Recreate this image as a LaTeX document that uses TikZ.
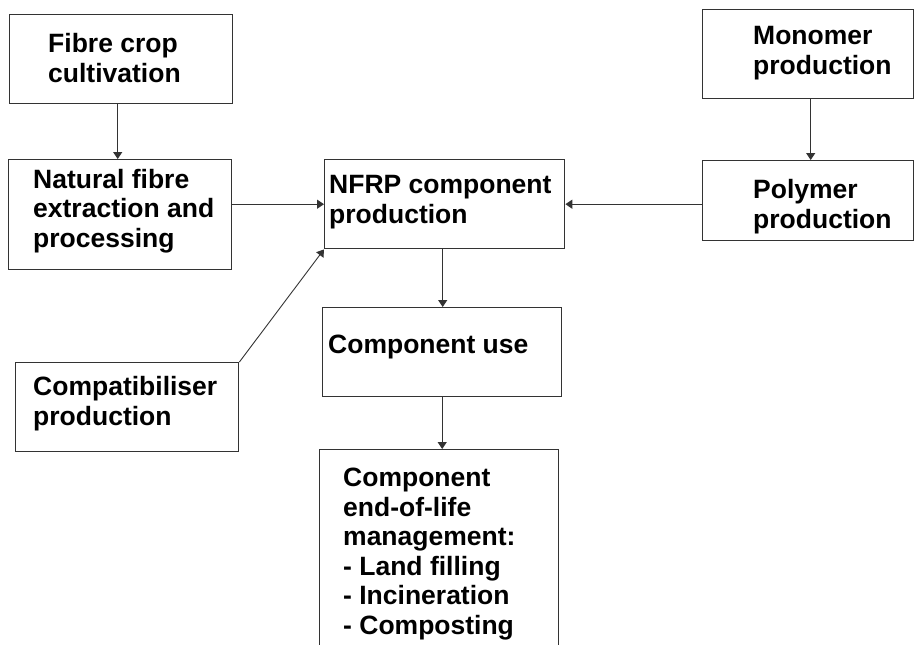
\documentclass[tikz,border=0pt]{standalone}
\usepackage{fontspec}
\setmainfont{Liberation Sans}
\usetikzlibrary{arrows.meta}
\begin{document}
\begin{tikzpicture}[x=1pt,y=-1pt,
  box/.style={draw=black!80,line width=1.4pt,rectangle,inner sep=0pt,anchor=north west},
  txt/.style={anchor=base west,inner sep=0pt,align=left,font=\fontsize{26.5}{29.5}\selectfont\bfseries},
  arr/.style={draw=black!80,line width=1.2pt,-{Triangle[width=9pt,length=7pt]}},
  thin/.style={draw=black!80,line width=0.9pt,-{Triangle[width=9pt,length=7pt]}}]
\useasboundingbox (0,0) rectangle (914,645);
\clip (0,0) rectangle (914,645);
% boxes
\node[box,minimum width=223pt,minimum height=89pt] (crop) at (9,14) {};
\node[box,minimum width=223pt,minimum height=110pt] (fibre) at (8,159) {};
\node[box,minimum width=240pt,minimum height=89pt] (nfrp) at (324,159) {};
\node[box,minimum width=239pt,minimum height=89pt] (use) at (322,307) {};
\node[box,minimum width=239pt,minimum height=220pt] (eol) at (319,449) {};
\node[box,minimum width=211pt,minimum height=89pt] (mono) at (702,9) {};
\node[box,minimum width=211pt,minimum height=80pt] (poly) at (702,160) {};
\node[box,minimum width=223pt,minimum height=89pt] (comp) at (15,362) {};
% texts (anchored at the baseline of the last line)
\node[txt] (tcrop) at (48,82) {Fibre crop\\cultivation};
\node[txt] (tfibre) at (33,247) {Natural fibre\\extraction and\\processing};
\node[txt] (tnfrp) at (329,223) {NFRP component\\production};
\node[txt] (tuse) at (328,353) {Component use};
\node[txt] (teol) at (343,634) {Component\\end-of-life\\management:\\- Land filling\\- Incineration\\- Composting};
\node[txt] (tmono) at (753,74) {Monomer\\production};
\node[txt] (tpoly) at (753,228) {Polymer\\production};
\node[txt] (tcomp) at (33,425) {Compatibiliser\\production};
% connectors
\draw[arr] ([xshift=-3.5pt]crop.south) -- ([xshift=-3.5pt]crop.south |- fibre.north);
\draw[arr] (nfrp.west -| fibre.east) -- (nfrp.west);
\draw[arr] (nfrp.east -| poly.west) -- (nfrp.east);
\draw[arr] ([xshift=2.5pt]mono.south) -- ([xshift=2.5pt]mono.south |- poly.north);
\draw[arr] ([xshift=-2pt]nfrp.south) -- ([xshift=-2pt]nfrp.south |- use.north);
\draw[arr] (use.south) -- (use.south |- eol.north);
\draw[thin] (comp.north east) -- (nfrp.south west);
\end{tikzpicture}
\end{document}
